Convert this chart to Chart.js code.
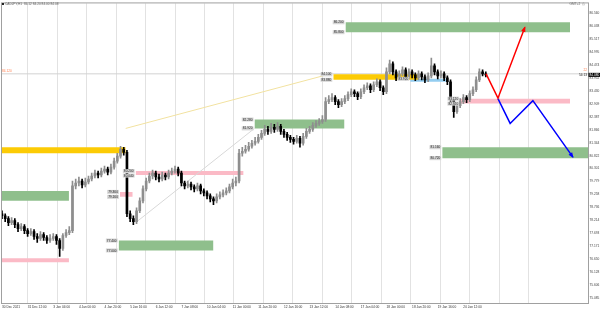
<!DOCTYPE html>
<html lang="en">
<head>
  <meta charset="UTF-8" />
  <title>H1 chart - zones</title>
  <script src="https://cdn.jsdelivr.net/npm/chart.js"></script>
  <style>
    html, body { margin: 0; padding: 0; background: #fff; }
    canvas { display: block; }
  </style>
</head>
<body>
  <canvas id="grafica" width="600" height="310"></canvas>
  <script>
    // time labels (one every 8 bars)
    const xLabels = ['30 Dec 2021', '31 Dec 12:00', '3 Jan 04:00', '4 Jan 00:00', '4 Jan 20:00', '5 Jan 16:00',
      '6 Jan 12:00', '7 Jan 08:00', '10 Jan 04:00', '11 Jan 00:00', '11 Jan 20:00', '12 Jan 16:00',
      '13 Jan 12:00', '14 Jan 08:00', '17 Jan 04:00', '18 Jan 00:00', '18 Jan 20:00', '19 Jan 16:00', '20 Jan 12:00'];

    const yTicks = [86.560, 86.038, 85.517, 84.995, 84.474, 83.952, 83.430, 82.909, 82.387, 81.866, 81.344, 80.822,
      80.301, 79.779, 79.258, 78.736, 78.214, 77.693, 77.171, 76.650, 76.128, 75.606, 75.085];

    const open = [
      78.48, 78.40, 78.28, 78.12, 78.20, 78.04, 77.88, 77.96, 77.80, 77.68,
      77.76, 77.56, 77.48, 77.64, 77.52, 77.40, 77.48, 77.56, 77.40, 77.08,
      77.60, 77.72, 77.80, 79.60, 79.72, 79.80, 79.64, 79.76, 79.88, 80.00,
      80.12, 80.04, 80.20, 80.28, 80.16, 80.36, 80.60, 80.80, 81.08, 80.96,
      78.48, 78.28, 78.16, 78.60, 79.00, 79.48, 79.80, 80.00, 80.12, 79.96,
      79.88, 80.04, 79.96, 80.12, 80.20, 80.28, 80.12, 79.72, 79.60, 79.68,
      79.56, 79.48, 79.60, 79.40, 79.32, 79.20, 79.08, 79.00, 79.16, 79.24,
      79.32, 79.40, 79.56, 79.72, 79.80, 80.92, 81.00, 81.08, 81.20, 81.32,
      81.40, 81.56, 81.72, 81.88, 81.80, 81.96, 81.88, 82.00, 81.80, 81.68,
      81.56, 81.48, 81.40, 81.52, 81.32, 81.60, 81.80, 81.88, 82.04, 82.12,
      82.20, 82.28, 83.00, 83.08, 83.16, 83.00, 82.88, 83.00, 83.12, 83.28,
      83.40, 83.32, 83.20, 83.40, 83.56, 83.64, 83.48, 83.68, 83.80, 83.56,
      83.40, 84.20, 84.52, 84.20, 83.96, 84.12, 84.28, 84.00, 84.20, 84.08,
      83.96, 84.12, 84.00, 83.88, 84.04, 84.44, 84.20, 84.04, 84.12, 83.96,
      83.80, 83.08, 82.60, 82.84, 83.00, 83.16, 83.08, 83.32, 83.48, 83.88,
      84.20, 84.12];
    const high = [
      78.60, 78.48, 78.36, 78.32, 78.28, 78.12, 78.08, 78.04, 77.88, 77.88,
      77.84, 77.68, 77.76, 77.72, 77.60, 77.64, 77.68, 77.64, 77.48, 77.68,
      77.84, 77.96, 79.80, 79.88, 79.96, 79.88, 79.92, 80.00, 80.12, 80.24,
      80.20, 80.32, 80.40, 80.36, 80.48, 80.72, 80.92, 81.20, 81.16, 81.04,
      78.60, 78.40, 78.72, 79.12, 79.60, 79.92, 80.12, 80.24, 80.20, 80.08,
      80.16, 80.12, 80.24, 80.32, 80.40, 80.36, 80.20, 79.80, 79.80, 79.76,
      79.64, 79.72, 79.68, 79.48, 79.40, 79.28, 79.16, 79.28, 79.36, 79.44,
      79.52, 79.68, 79.88, 79.96, 81.08, 81.16, 81.24, 81.36, 81.44, 81.56,
      81.68, 81.84, 82.04, 82.00, 82.12, 82.08, 82.16, 82.08, 81.88, 81.76,
      81.64, 81.56, 81.64, 81.60, 81.72, 81.92, 82.00, 82.16, 82.24, 82.32,
      82.44, 83.16, 83.24, 83.32, 83.24, 83.08, 83.12, 83.24, 83.40, 83.52,
      83.48, 83.40, 83.52, 83.68, 83.76, 83.72, 83.80, 83.92, 83.88, 83.64,
      84.36, 84.68, 84.60, 84.28, 84.24, 84.40, 84.36, 84.32, 84.28, 84.16,
      84.24, 84.20, 84.08, 84.16, 84.76, 84.52, 84.28, 84.24, 84.20, 84.04,
      83.88, 83.16, 82.96, 83.12, 83.28, 83.24, 83.44, 83.60, 84.00, 84.32,
      84.28, 84.20];
    const low = [
      78.28, 78.16, 78.00, 78.04, 77.92, 77.76, 77.80, 77.68, 77.56, 77.60,
      77.44, 77.32, 77.40, 77.40, 77.28, 77.32, 77.40, 77.24, 76.76, 77.00,
      77.52, 77.64, 77.72, 79.48, 79.60, 79.52, 79.56, 79.68, 79.80, 79.92,
      79.92, 79.96, 80.12, 80.04, 80.08, 80.28, 80.52, 80.72, 80.84, 78.36,
      78.16, 78.04, 78.08, 78.52, 78.92, 79.40, 79.72, 79.88, 79.84, 79.76,
      79.80, 79.84, 79.88, 80.04, 80.12, 80.00, 79.60, 79.48, 79.52, 79.44,
      79.36, 79.40, 79.28, 79.20, 79.08, 78.96, 78.84, 78.92, 79.08, 79.16,
      79.24, 79.32, 79.48, 79.60, 79.72, 80.80, 80.92, 81.00, 81.12, 81.24,
      81.32, 81.48, 81.64, 81.68, 81.72, 81.76, 81.80, 81.68, 81.56, 81.44,
      81.36, 81.28, 81.32, 81.16, 81.24, 81.52, 81.72, 81.80, 81.96, 82.04,
      82.12, 82.20, 82.92, 83.00, 82.88, 82.76, 82.80, 82.92, 83.04, 83.20,
      83.20, 83.08, 83.12, 83.32, 83.48, 83.36, 83.40, 83.60, 83.44, 83.28,
      83.32, 84.12, 84.08, 83.84, 83.88, 84.04, 83.88, 83.92, 83.96, 83.84,
      83.88, 83.88, 83.76, 83.80, 83.96, 84.08, 83.92, 83.96, 83.84, 83.68,
      82.96, 82.36, 82.52, 82.76, 82.92, 82.96, 83.00, 83.24, 83.40, 83.80,
      84.04, 84.00];
    const close = [
      78.40, 78.28, 78.12, 78.20, 78.04, 77.88, 77.96, 77.80, 77.68, 77.76,
      77.56, 77.48, 77.64, 77.52, 77.40, 77.48, 77.56, 77.40, 77.08, 77.60,
      77.72, 77.80, 79.60, 79.72, 79.80, 79.64, 79.76, 79.88, 80.00, 80.12,
      80.04, 80.20, 80.28, 80.16, 80.36, 80.60, 80.80, 81.08, 80.96, 78.48,
      78.28, 78.16, 78.60, 79.00, 79.48, 79.80, 80.00, 80.12, 79.96, 79.88,
      80.04, 79.96, 80.12, 80.20, 80.28, 80.12, 79.72, 79.60, 79.68, 79.56,
      79.48, 79.60, 79.40, 79.32, 79.20, 79.08, 79.00, 79.16, 79.24, 79.32,
      79.40, 79.56, 79.72, 79.80, 80.92, 81.00, 81.08, 81.20, 81.32, 81.40,
      81.56, 81.72, 81.88, 81.80, 81.96, 81.88, 82.00, 81.80, 81.68, 81.56,
      81.48, 81.40, 81.52, 81.32, 81.60, 81.80, 81.88, 82.04, 82.12, 82.20,
      82.28, 83.00, 83.08, 83.16, 83.00, 82.88, 83.00, 83.12, 83.28, 83.40,
      83.32, 83.20, 83.40, 83.56, 83.64, 83.48, 83.68, 83.80, 83.56, 83.40,
      84.20, 84.52, 84.20, 83.96, 84.12, 84.28, 84.00, 84.20, 84.08, 83.96,
      84.12, 84.00, 83.88, 84.04, 84.44, 84.20, 84.04, 84.12, 83.96, 83.80,
      83.08, 82.60, 82.84, 83.00, 83.16, 83.08, 83.32, 83.48, 83.88, 84.20,
      84.12, 84.08];

    // supply / demand zones (bar index from-to, price high-low)
    const zoneFrom = [107.2, 103.4, 127.4, 143.0, 137.4, 78.8, 0, 41.7, 36.8, 0, 0, 36.4];
    const zoneTo   = [177.3, 129.9, 139.3, 177.3, 182.9, 106.9, 38.6, 75.4, 40.8, 20.9, 20.9, 66.0];
    const zoneHigh = [86.20, 84.10, 83.92, 83.12, 81.16, 82.28, 81.16, 80.20, 79.36, 79.40, 76.68, 77.40];
    const zoneLow  = [85.80, 83.88, 83.80, 82.92, 80.72, 81.92, 80.92, 80.04, 79.16, 79.00, 76.52, 77.00];
    const zoneKind = ['green', 'yellow', 'blue', 'pink', 'green', 'green', 'yellow', 'pink', 'pink', 'green', 'pink', 'green'];

    // projected paths
    const redX = [151.1, 154.8, 163.2];
    const redY = [84.12, 83.14, 86.00];
    const blueX = [154.8, 158.6, 165.7, 178.2];
    const blueY = [83.12, 82.12, 83.04, 80.76];

    // thin guide lines
    const guideYellowX = [38.6, 102.5];
    const guideYellowY = [81.92, 84.12];
    const guideGrayX = [41.7, 78.8];
    const guideGrayY = [78.12, 81.92];

    const bidPrice = 84.12;

    const X_MAX = 182.9;
    const LABEL_EVERY = 8;
    const FONT = '"Liberation Sans", Arial, sans-serif';
    const SMALL = 3.2;
    const zoneColors = { green: '#8fbf8c', yellow: '#fccb05', pink: '#fbbac6', blue: '#93cdf0' };
    const taggedZones = { 0: 2, 1: 2, 2: 1, 3: 2, 4: 2, 5: 2, 7: 2, 8: 2, 11: 2 };
    const BULL = '#8e8e8e', BEAR = '#000000';

    const idx = close.map((_, i) => i);
    const up = i => close[i] >= open[i];
    const pts = (xs, ys) => xs.map((x, i) => ({ x: x, y: ys[i] }));
    const candleColor = c => up(c.dataIndex || 0) ? BULL : BEAR;

    const zoneSets = zoneFrom.map((f, i) => ({
      type: 'line',
      data: pts([f, zoneTo[i]], [zoneLow[i], zoneLow[i]]),
      borderColor: 'rgba(0,0,0,0)',
      borderWidth: 0,
      pointRadius: 0,
      fill: { value: zoneHigh[i] },
      backgroundColor: zoneColors[zoneKind[i]],
      order: 20
    }));

    const zoneLabels = {
      id: 'zoneLabels',
      afterDatasetsDraw(chart) {
        const { ctx, scales: { x, y } } = chart;
        ctx.save();
        ctx.font = SMALL + 'px ' + FONT;
        ctx.textBaseline = 'middle';
        ctx.textAlign = 'right';
        Object.keys(taggedZones).forEach(k => {
          const i = +k;
          const right = x.getPixelForValue(zoneFrom[i]) - 1;
          const yt = y.getPixelForValue(zoneHigh[i]);
          let yb = y.getPixelForValue(zoneLow[i]);
          if (yb - yt < 4.5) yb = yt + 4.5;
          const rows = [[zoneHigh[i], yt], [zoneLow[i], yb]].slice(0, taggedZones[k]);
          rows.forEach(([v, py]) => {
            const t = v.toFixed(3);
            const w = ctx.measureText(t).width + 2;
            ctx.fillStyle = '#d6d6d6';
            ctx.fillRect(right - w, py - 2, w, 4);
            ctx.fillStyle = '#222';
            ctx.fillText(t, right - 1, py + 0.2);
          });
        });
        ctx.restore();
      }
    };

    function arrowHead(ctx, x, y, xs, ys, color) {
      const n = xs.length;
      const ax = x.getPixelForValue(xs[n - 2]), ay = y.getPixelForValue(ys[n - 2]);
      const bx = x.getPixelForValue(xs[n - 1]), by = y.getPixelForValue(ys[n - 1]);
      ctx.save();
      ctx.translate(bx, by);
      ctx.rotate(Math.atan2(by - ay, bx - ax));
      ctx.fillStyle = color;
      ctx.beginPath();
      ctx.moveTo(1, 0);
      ctx.lineTo(-4.5, -2.2);
      ctx.lineTo(-4.5, 2.2);
      ctx.closePath();
      ctx.fill();
      ctx.restore();
    }

    const decor = {
      id: 'decor',
      afterDraw(chart) {
        const { ctx, chartArea: a, scales: { x, y } } = chart;
        ctx.save();
        // frame
        ctx.strokeStyle = '#a0a0a0';
        ctx.lineWidth = 1;
        ctx.strokeRect(a.left - 0.5, a.top - 0.5, a.right - a.left + 1, a.bottom - a.top + 1);

        arrowHead(ctx, x, y, redX, redY, '#ff0000');
        arrowHead(ctx, x, y, blueX, blueY, '#0000ff');

        ctx.font = SMALL + 'px ' + FONT;
        ctx.textBaseline = 'middle';
        // symbol caption
        ctx.fillStyle = '#222';
        ctx.fillRect(2, 3, 2, 2);
        ctx.fillStyle = '#666';
        ctx.textAlign = 'left';
        ctx.fillText('CADJPY,H1  84.12 84.20 84.00 84.08', 5, 4.2);
        // top right
        ctx.textAlign = 'right';
        ctx.fillText('GMT+2  \u24D8', 585, 4.2);

        // bid line labels
        const yb = y.getPixelForValue(bidPrice);
        ctx.textAlign = 'left';
        ctx.fillStyle = '#ff7f50';
        ctx.fillText(bidPrice.toFixed(3), 2, yb - 2.5);
        ctx.textAlign = 'right';
        ctx.fillText('22', 587, yb - 3.5);
        ctx.fillStyle = '#222';
        ctx.fillText('54:13', 587, yb + 1.5);

        // current price box
        const last = close[close.length - 1];
        const yl = y.getPixelForValue(last);
        ctx.fillStyle = '#000';
        ctx.fillRect(a.right + 0.5, yl - 2, 12, 4);
        ctx.fillStyle = '#fff';
        ctx.textAlign = 'left';
        ctx.fillText(last.toFixed(3), a.right + 1.5, yl + 0.2);
        ctx.restore();
      }
    };

    new Chart(document.getElementById('grafica'), {
      type: 'bar',
      data: {
        datasets: [
          { type: 'line', data: pts([0, X_MAX], [bidPrice, bidPrice]), borderColor: '#d2d2d2', borderWidth: 1, pointRadius: 0, order: 30 },
          ...zoneSets,
          { type: 'line', data: pts(guideYellowX, guideYellowY), borderColor: '#f2e2a0', borderWidth: 1, pointRadius: 0, order: 15 },
          { type: 'line', data: pts(guideGrayX, guideGrayY), borderColor: '#d8d8d8', borderWidth: 1, pointRadius: 0, order: 15 },
          { type: 'bar', data: idx.map(i => ({ x: i, y: [low[i], high[i]] })), barThickness: 1, grouped: false,
            backgroundColor: candleColor, order: 2 },
          { type: 'bar', data: idx.map(i => ({ x: i, y: [open[i], close[i]] })), barThickness: 2, minBarLength: 1, grouped: false,
            backgroundColor: candleColor, order: 1 },
          { type: 'line', data: pts(redX, redY), borderColor: '#ff0000', borderWidth: 1.5, pointRadius: 0, order: 0 },
          { type: 'line', data: pts(blueX, blueY), borderColor: '#0000ff', borderWidth: 1.5, pointRadius: 0, order: 0 }
        ]
      },
      options: {
        responsive: false,
        animation: false,
        devicePixelRatio: 1,
        layout: { padding: { left: 1, top: 1, right: 0, bottom: 0 } },
        plugins: { legend: { display: false }, tooltip: { enabled: false } },
        scales: {
          x: {
            type: 'linear', min: 0, max: X_MAX, offset: false, position: 'bottom',
            grid: { display: false, drawTicks: false },
            border: { display: false },
            afterBuildTicks: s => { s.ticks = xLabels.map((_, k) => ({ value: k * LABEL_EVERY })); },
            afterFit: s => { s.height = 7; },
            ticks: {
              autoSkip: false, maxRotation: 0, align: 'start', padding: 2, color: '#333',
              font: { size: SMALL, family: FONT },
              callback: (v, k) => xLabels[k]
            }
          },
          xg: {
            type: 'linear', min: 0, max: X_MAX, offset: false, position: 'bottom',
            grid: { color: '#e2e2e2', drawTicks: false },
            border: { display: false },
            ticks: { display: false },
            afterBuildTicks: s => {
              const t = [];
              for (let v = 3.4; v < 160; v += 9.2) t.push({ value: v });
              s.ticks = t;
            },
            afterFit: s => { s.height = 0; }
          },
          y: {
            type: 'linear', position: 'right', min: 74.88, max: 86.96,
            grid: { display: false, drawTicks: false },
            border: { display: false },
            afterBuildTicks: s => { s.ticks = yTicks.map(v => ({ value: v })); },
            afterFit: s => { s.width = 12; },
            ticks: {
              padding: 1.5, color: '#444',
              font: { size: SMALL, family: FONT },
              callback: v => v.toFixed(3)
            }
          }
        }
      },
      plugins: [zoneLabels, decor]
    });
  </script>
</body>
</html>
